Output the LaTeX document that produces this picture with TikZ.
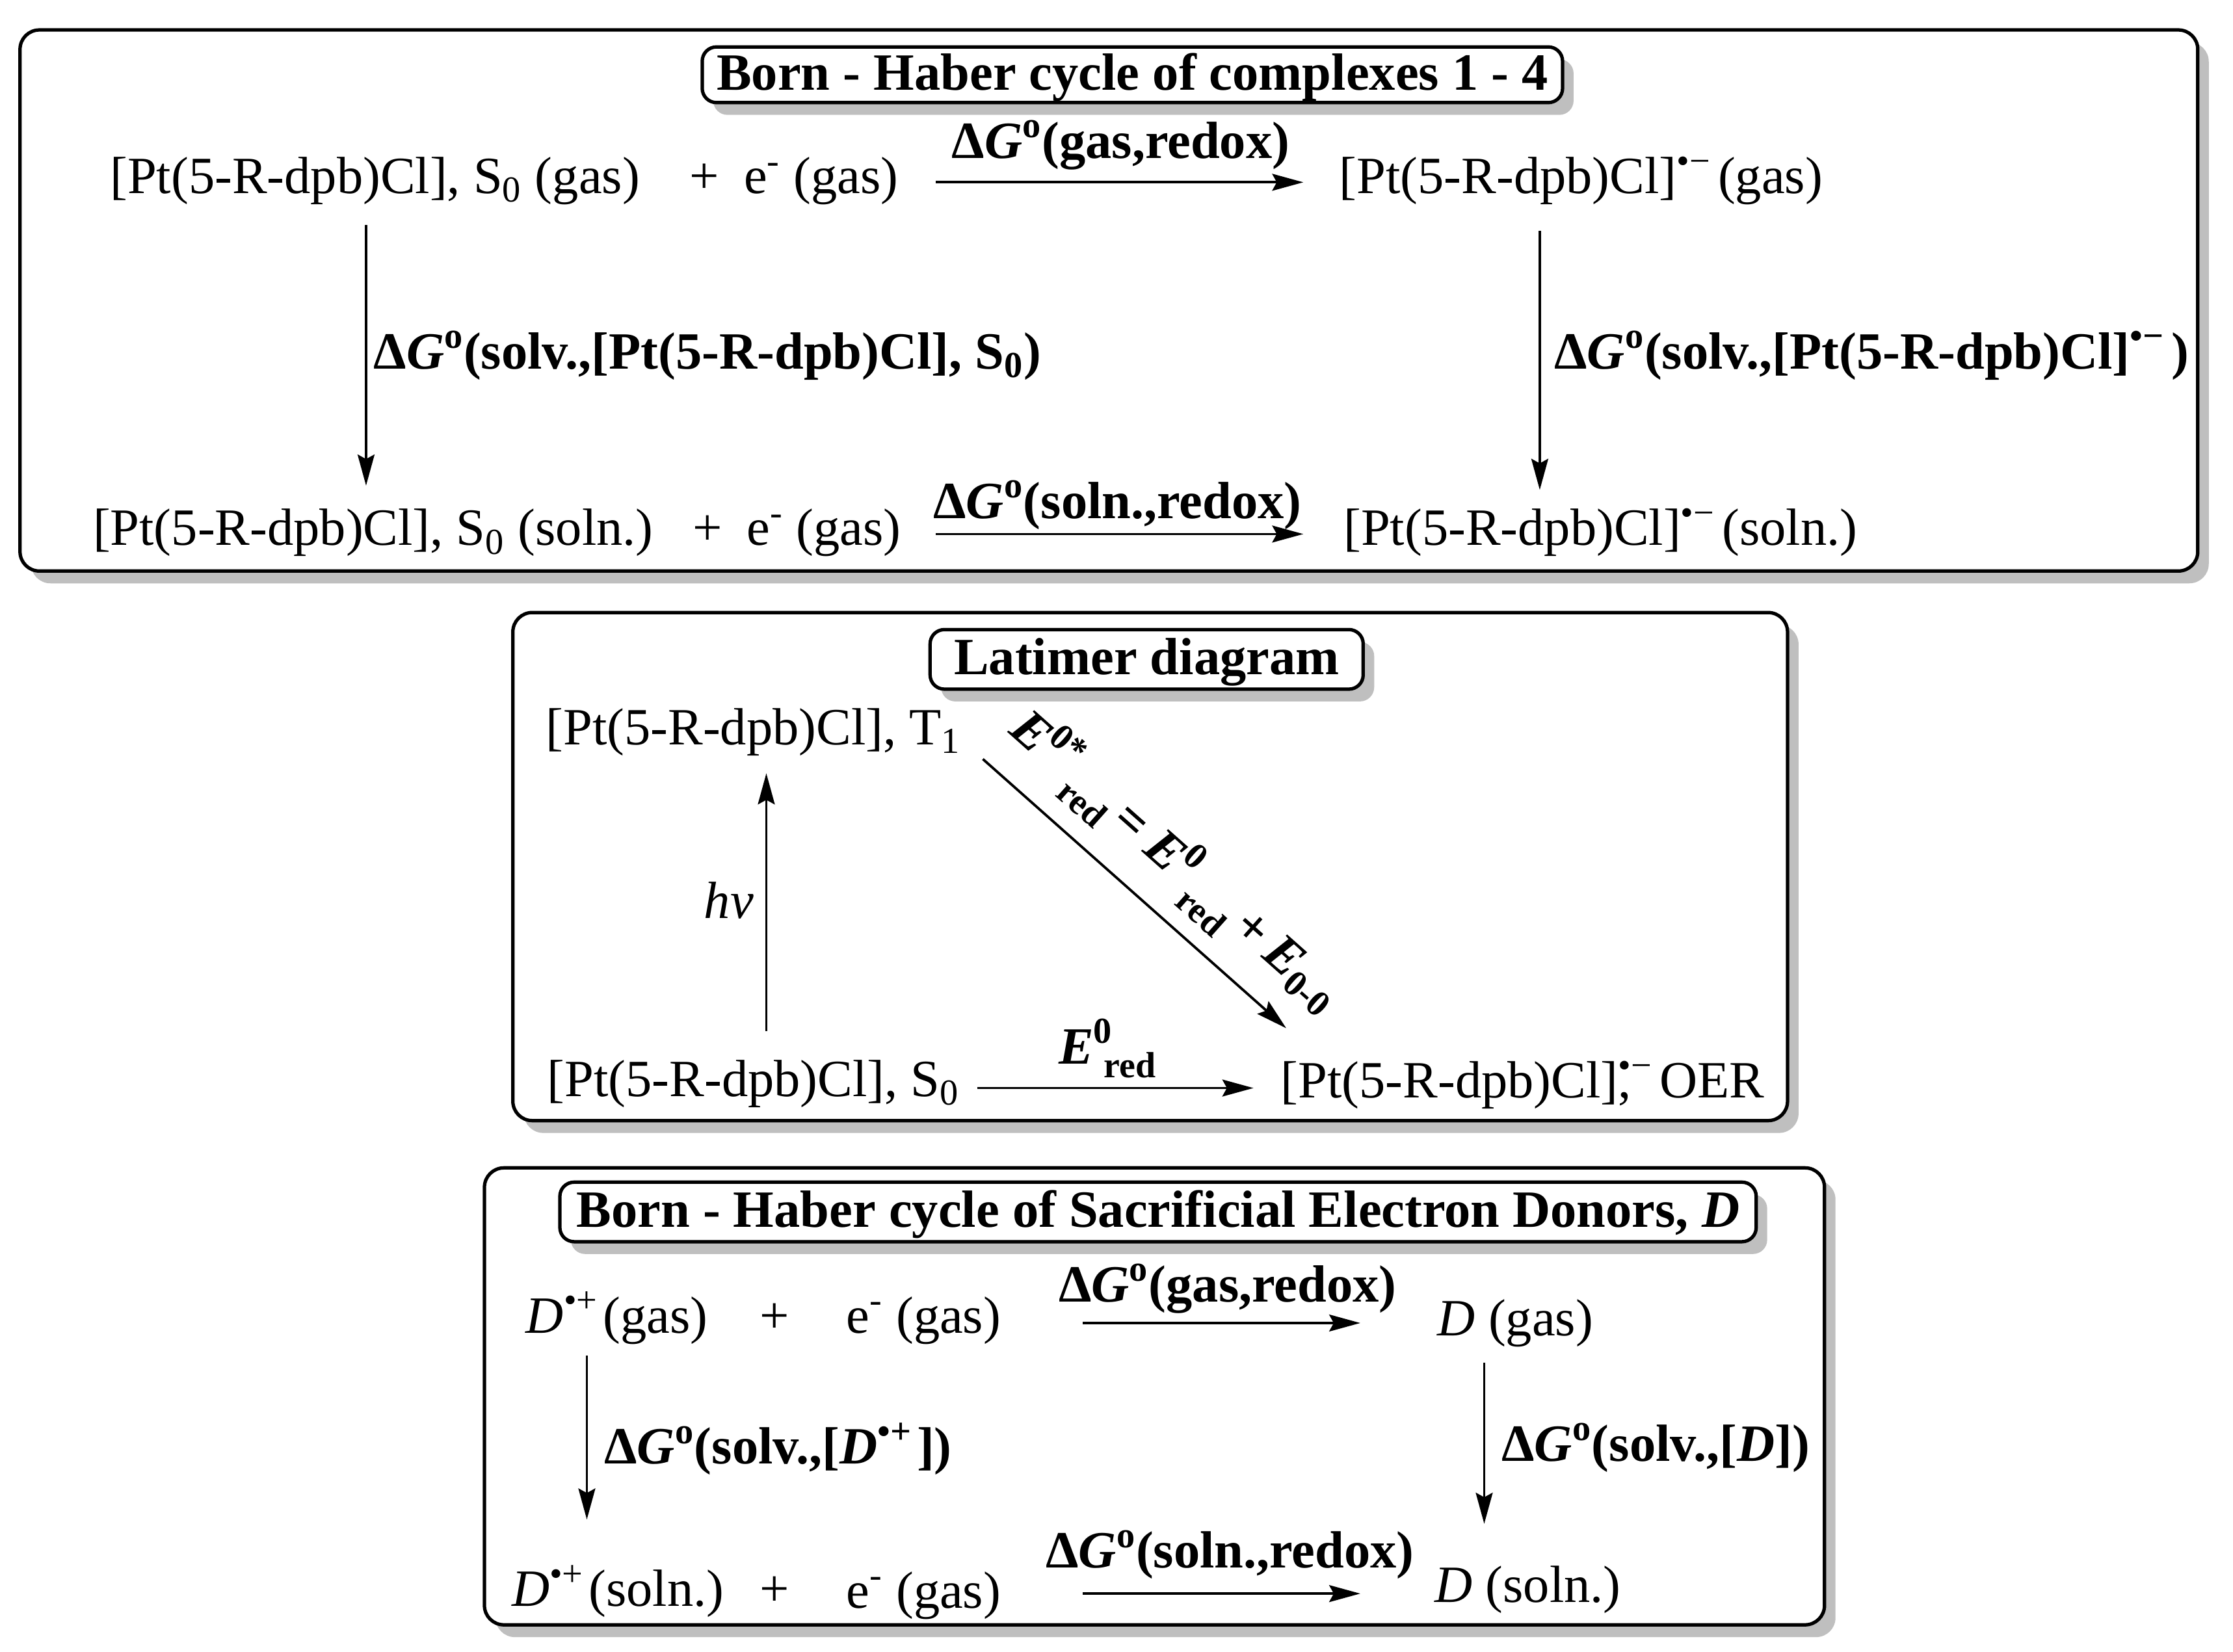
\documentclass[tikz,border=0pt]{standalone}
\usepackage{fontspec}
\usepackage{tikz}
\usetikzlibrary{arrows.meta}
\usetikzlibrary{positioning}
\usetikzlibrary{shadows}
\setmainfont{Liberation Serif}
\definecolor{mgray}{rgb}{0.75, 0.75, 0.75}
\newcommand{\dGo}{Δ\textit{G}\textsuperscript{o}}
\newcommand{\ptc}{[Pt(5-R-dpb)Cl]}
\newcommand{\rad}{\textsuperscript{•−}\hspace{3pt}}
\newcommand{\dpl}{\textit{D}\textsuperscript{•+}\hspace{2pt}}
\tikzset{
    panel/.style={draw, fill=white, line width=1.5pt, rounded corners=0.3cm,
        drop shadow={shadow xshift=0.17cm, shadow yshift=-0.19cm, fill=mgray, opacity=1}},
    titlebox/.style={panel, rounded corners=0.22cm, inner sep=0pt, text height=16pt, text depth=2.7pt,
        font=\fontsize{23}{27}\selectfont\bfseries},
    species/.style={anchor=base west, inner sep=0pt},
    energy/.style={species, font=\fontsize{23}{27}\selectfont\bfseries},
    rxn/.style={line width=1.1pt, -{Stealth[length=0.48cm, width=0.26cm, inset=0.07cm]}}
}

\begin{document}
\begin{tikzpicture}[x=0.022cm, y=-0.022cm, font=\fontsize{23}{27}\selectfont]
    \useasboundingbox (0, 0) rectangle (1567.7, 1160);

    \node [panel, minimum width=33.64cm, minimum height=8.36cm] (cyclepanel) at (778.5, 211) {};
    \node [titlebox, minimum width=13.29cm, minimum height=0.86cm] (cycletitle) at (795, 52.5) {Born - Haber cycle of complexes 1 - 4};

    \node [species] (ptgas) at (77, 136) {\ptc, S\textsubscript{0} (gas)};
    \node [species] (plusa) at (484, 136) {+};
    \node [species] (egasa) at (522, 136) {e\textsuperscript{-} (gas)};
    \node [species] (anigas) at (940, 136) {\ptc\rad(gas)};
    \node [species] (ptsoln) at (65, 383) {\ptc, S\textsubscript{0} (soln.)};
    \node [species] (plusb) at (486, 383) {+};
    \node [species] (egasb) at (524, 383) {e\textsuperscript{-} (gas)};
    \node [species] (anisoln) at (943, 383) {\ptc\rad(soln.)};

    \node [energy] (gasredox) at (668, 111) {\dGo(gas,redox)};
    \node [energy] (solnredox) at (655, 364) {\dGo(soln.,redox)};
    \node [energy] (solvpt) at (262, 259) {\dGo(solv.,\ptc, S\textsubscript{0})};
    \node [energy] (solvani) at (1091, 259) {\dGo(solv.,\ptc\rad)};

    \draw [rxn] ([shift={(135, -8)}]egasa.base west) -- ([shift={(-25, -8)}]anigas.base west);
    \draw [rxn] ([shift={(133, -8)}]egasb.base west) -- ([shift={(-28, -8)}]anisoln.base west);
    \draw [rxn] ([shift={(180, 22)}]ptgas.base west) -- ([shift={(192, -42)}]ptsoln.base west);
    \draw [rxn] ([shift={(141, 26)}]anigas.base west) -- ([shift={(138, -39)}]anisoln.base west);

    \node [panel, minimum width=19.69cm, minimum height=7.85cm] (latpanel) at (807.5, 608.5) {};
    \node [titlebox, minimum width=6.69cm, minimum height=0.92cm] (lattitle) at (805, 463) {Latimer diagram};

    \node [species] (pttrip) at (383, 523) {\ptc, T\textsubscript{1}};
    \node [species] (ptsing) at (384, 770) {\ptc, S\textsubscript{0}};
    \node [species] (ptoer) at (899, 771) {\ptc\rlap{,}\rad OER};
    \node [species] (hvlbl) at (494, 645) {\textit{hv}};
    \node [energy] (redlbl) at (743, 747) {\textit{E}\textsuperscript{0}\hspace{-4pt}\raisebox{-6pt}{\fontsize{16}{18}\selectfont red}};
    \node [energy, rotate=-41.6] (starlbl) at (707, 514) {\textit{E}\textsuperscript{0*}\hspace{2pt}\raisebox{-7pt}{\fontsize{16}{18}\selectfont red}\hspace{3.5pt}=\hspace{5.6pt}\textit{E}\textsuperscript{0}\hspace{2pt}\raisebox{-8pt}{\fontsize{16}{18}\selectfont red}\hspace{3.5pt}+\hspace{4.4pt}\textit{E}\textsubscript{0-0}};

    \draw [rxn] ([shift={(154, -46)}]ptsing.base west) -- ([shift={(155, 20)}]pttrip.base west);
    \draw [rxn] ([shift={(302, -6)}]ptsing.base west) -- ([shift={(-19, -7)}]ptoer.base west);
    \draw [rxn] ([shift={(307, 10)}]pttrip.base west) -- ([shift={(4, -49)}]ptoer.base west);

    \node [panel, minimum width=20.70cm, minimum height=7.06cm] (donpanel) at (810.5, 980.5) {};
    \node [titlebox, minimum width=18.48cm, minimum height=0.92cm] (dontitle) at (813, 851) {Born - Haber cycle of Sacrificial Electron Donors, \textit{D}};

    \node [species] (dongas) at (369, 936) {\dpl(gas)};
    \node [species] (plusc) at (533, 936) {+};
    \node [species] (egasc) at (594, 936) {e\textsuperscript{-} (gas)};
    \node [species] (dgas) at (1009, 938) {\textit{D} (gas)};
    \node [species] (donsoln) at (359, 1128) {\dpl(soln.)};
    \node [species] (plusd) at (533, 1128) {+};
    \node [species] (egasd) at (594, 1129) {e\textsuperscript{-} (gas)};
    \node [species] (dsoln) at (1007, 1125) {\textit{D} (soln.)};

    \node [energy] (dgasredox) at (743, 914) {\dGo(gas,redox)};
    \node [energy] (dsolnredox) at (734, 1101) {\dGo(soln.,redox)};
    \node [energy] (solvdon) at (424, 1028) {\dGo(solv.,[\dpl])};
    \node [energy] (solvd) at (1054, 1026) {\dGo(solv.,[\textit{D}])};

    \draw [rxn] ([shift={(166, -7)}]egasc.base west) -- ([shift={(-54, -9)}]dgas.base west);
    \draw [rxn] ([shift={(166, -10)}]egasd.base west) -- ([shift={(-52, -6)}]dsoln.base west);
    \draw [rxn] ([shift={(43, 16)}]dongas.base west) -- ([shift={(53, -61)}]donsoln.base west);
    \draw [rxn] ([shift={(33, 19)}]dgas.base west) -- ([shift={(35, -55)}]dsoln.base west);
\end{tikzpicture}
\end{document}
